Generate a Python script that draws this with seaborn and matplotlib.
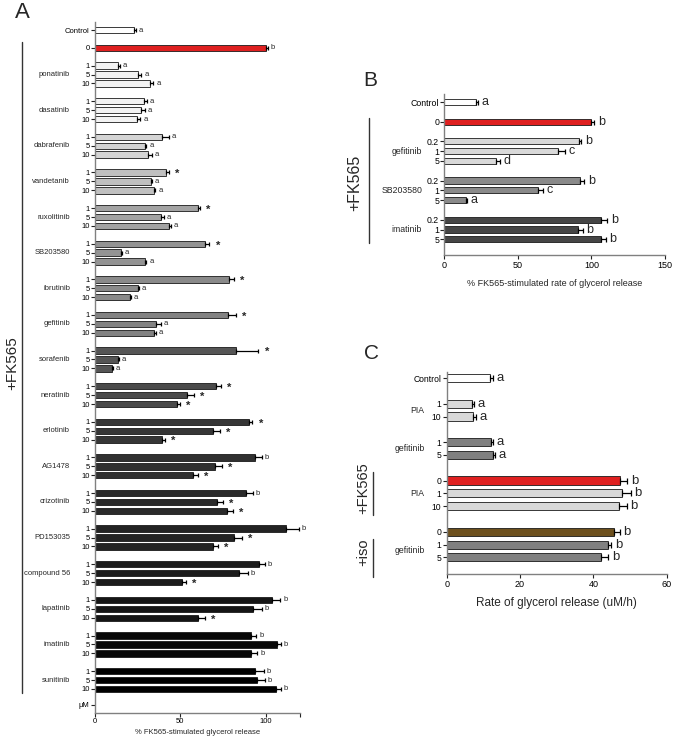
import numpy as np
import pandas as pd
import matplotlib
matplotlib.use("Agg")
import matplotlib.pyplot as plt
import matplotlib.transforms as mtransforms
import seaborn as sns

sns.set_style("ticks")
plt.rcParams['font.family'] = ['Liberation Sans', 'DejaVu Sans']

# ---------------- panel A ----------------
a_groups = ["ponatinib", "dasatinib", "dabrafenib", "vandetanib", "ruxolitinib",
            "SB203580", "ibrutinib", "gefitinib", "sorafenib", "neratinib",
            "erlotinib", "AG1478", "crizotinib", "PD153035", "compound 56",
            "lapatinib", "imatinib", "sunitinib"]
a_doses = ["1", "5", "10"]
a_colors = ["#f3f3f3", "#f3f3f3", "#d4d4d4", "#c0c0c0", "#a3a3a3",
            "#939393", "#8a8a8a", "#828282", "#555555", "#4a4a4a",
            "#363636", "#303030", "#2a2a2a", "#232323", "#1c1c1c",
            "#151515", "#080808", "#000000"]
a_values = [[13.5, 25.2, 32.2], [28.4, 27.0, 24.6], [39.2, 29.1, 31.3],
            [41.7, 32.8, 34.4], [60.0, 38.6, 43.5], [64.5, 15.4, 29.1],
            [78.5, 25.2, 20.3], [78.0, 35.9, 34.7], [82.6, 13.5, 10.2],
            [70.6, 54.0, 47.8], [90.1, 68.9, 39.4], [93.6, 70.1, 57.3],
            [88.4, 71.2, 77.4], [111.8, 81.1, 68.9], [96.1, 84.3, 51.0],
            [103.5, 92.7, 60.0], [91.5, 106.5, 91.5], [93.8, 95.0, 105.7]]
a_errors = [[1, 2, 2], [2, 2, 2], [4, 1, 2], [1.5, 0.5, 1], [1.5, 1.5, 1],
            [2.5, 0.5, 1], [3, 0.5, 0.5], [4.5, 2.5, 1], [13, 0.4, 0.4],
            [3, 4, 2], [2, 4, 1.5], [4, 4, 3], [4, 3.5, 3.5], [7.5, 5, 3],
            [3.5, 5, 2], [5, 5, 4.5], [3, 2.5, 3.5], [5, 4.5, 3]]
a_marks = [["a", "a", "a"], ["a", "a", "a"], ["a", "a", "a"], ["*", "a", "a"],
           ["*", "a", "a"], ["*", "a", "a"], ["*", "a", "a"], ["*", "a", "a"],
           ["*", "a", "a"], ["*", "*", "*"], ["*", "*", "*"], ["b", "*", "*"],
           ["b", "*", "*"], ["b", "*", "*"], ["b", "b", "*"], ["b", "b", "*"],
           ["b", "b", "b"], ["b", "b", "b"]]
a_control = (22.8, 1.4)
a_fk = (100.0, 1.0)

# ---------------- panel B ----------------
b_groups = ["gefitinib", "SB203580", "imatinib"]
b_doses = ["0.2", "1", "5"]
b_colors = ["#d9d9d9", "#8a8a8a", "#454545"]
b_values = [[91.7, 77.0, 34.9], [92.1, 64.0, 14.6], [106.8, 91.2, 106.8]]
b_errors = [[1.5, 5, 3], [3, 3, 0.7], [4, 3, 3]]
b_marks = [["b", "c", "d"], ["b", "c", "a"], ["b", "b", "b"]]
b_control = (21.8, 1.0)
b_fk = (100.0, 2.0)

# ---------------- panel C ----------------
c_groups = ["", "PIA", "gefitinib", "PIA", "gefitinib"]
c_doses = [["Control"], ["1", "10"], ["1", "5"], ["0", "1", "10"], ["0", "1", "5"]]
c_values = [[11.8], [6.8, 7.3], [12.0, 12.5], [47.3, 47.7, 47.1], [45.7, 43.9, 42.1]]
c_errors = [[0.8], [0.6, 0.6], [0.6, 0.8], [2.0, 2.5, 2.0], [1.5, 1.0, 2.0]]
c_marks = [["a"], ["a", "a"], ["a", "a"], ["b", "b", "b"], ["b", "b", "b"]]
c_colors = [["#ffffff"], ["#d9d9d9", "#d9d9d9"], ["#808080", "#808080"],
            ["#ff0000", "#d9d9d9", "#d9d9d9"], ["#7a5410", "#808080", "#808080"]]


def layout(groups, doses, values, errors, marks, colors):
    """Stack groups top to bottom, one empty slot between groups."""
    rows = []
    pos = 0
    centers = []
    for g, d, v, e, m, c in zip(groups, doses, values, errors, marks, colors):
        start = pos
        for dd, vv, ee, mm, cc in zip(d, v, e, m, c):
            rows.append(dict(pos=pos, label=dd, value=vv, err=ee, mark=mm, color=cc))
            pos += 1
        centers.append((g, (start + pos - 1) / 2))
        pos += 1
    return pd.DataFrame(rows), centers


def stim_panel(groups, doses, values, errors, marks, colors, control, fk):
    g = [""] * 2 + groups
    d = [["Control"], ["0"]] + [doses] * len(groups)
    v = [[control[0]], [fk[0]]] + values
    e = [[control[1]], [fk[1]]] + errors
    m = [["a"], ["b"]] + marks
    c = [["#ffffff"], ["#ff0000"]] + [[col] * len(doses) for col in colors]
    return layout(g, d, v, e, m, c)


def draw_panel(ax, df, centers, width, fs, fs_mark, group_off, mark_off,
               capsize, star_fs=None):
    pal = {c: c for c in df["color"].unique()}
    sns.barplot(data=df, x="value", y="pos", hue="color", palette=pal,
                orient="h", native_scale=True, dodge=False, legend=False,
                width=width, edgecolor="#1a1a1a", linewidth=0.6,
                errorbar=None, ax=ax)
    ax.errorbar(df["value"], df["pos"], xerr=[np.zeros(len(df)), df["err"]],
                fmt="none", ecolor="black", elinewidth=0.9, capsize=capsize,
                capthick=0.9)
    for _, r in df.iterrows():
        if r["mark"] == "*":
            ax.annotate("*", xy=(r["value"] + r["err"], r["pos"]),
                        xytext=(mark_off + 2.5, -1.2), textcoords="offset points",
                        ha="left", va="center", fontsize=star_fs or fs_mark,
                        fontweight="bold")
        else:
            ax.annotate(r["mark"], xy=(r["value"] + r["err"], r["pos"]),
                        xytext=(mark_off, 0), textcoords="offset points",
                        ha="left", va="center", fontsize=fs_mark)
    for name, cy in centers:
        if name:
            ax.annotate(name, xy=(0, cy), xycoords=ax.get_yaxis_transform(),
                        xytext=(-group_off, 0), textcoords="offset points",
                        ha="right", va="center", fontsize=fs)
    last = df["pos"].max()
    ax.set_yticks(list(df["pos"]) + [last + 1.8])
    ax.set_yticklabels(list(df["label"]) + ["μM"], fontsize=fs)
    ax.set_ylabel("")
    sns.despine(ax=ax)
    for s in ["left", "bottom"]:
        ax.spines[s].set_color("#808080")
        ax.spines[s].set_linewidth(1.0)
    ax.tick_params(axis="both", colors="#222222", labelcolor="black",
                   length=2.8, width=0.8, pad=1)


W, H = 675, 737
fig = plt.figure(figsize=(W / 100, H / 100), dpi=100)


def box(left, top, right, bottom):
    return [left / W, 1 - bottom / H, (right - left) / W, (bottom - top) / H]


# panel A
dfa, ca = stim_panel(a_groups, a_doses, a_values, a_errors, a_marks, a_colors,
                     a_control, a_fk)
axA = fig.add_axes(box(95, 22, 300, 713))
draw_panel(axA, dfa, ca, 0.72, 5.5, 5.5, 18, 2, 1.5, star_fs=8)
axA.set_ylim(76.7, -0.9)
axA.set_xlim(0, 120)
axA.set_xticks([0, 50, 100, 120])
axA.set_xticklabels(["0", "50", "100", ""], fontsize=5.5)
axA.set_xlabel("% FK565-stimulated glycerol release", fontsize=5.5, labelpad=3)

# panel B
dfb, cb = stim_panel(b_groups, b_doses, b_values, b_errors, b_marks, b_colors,
                     b_control, b_fk)
axB = fig.add_axes(box(444.3, 94.3, 665, 255))
draw_panel(axB, dfb, cb, 0.62, 6.3, 9, 16, 2.5, 1.8)
axB.set_ylim(15.6, -0.8)
axB.set_xlim(0, 150)
axB.set_xticks([0, 50, 100, 150])
axB.tick_params(axis="x", labelsize=6.5, length=3)
axB.set_xlabel("% FK565-stimulated rate of glycerol release", fontsize=6.5,
               labelpad=7)

# panel C
dfc, cc = layout(c_groups, c_doses, c_values, c_errors, c_marks, c_colors)
axC = fig.add_axes(box(446.7, 371.7, 666.7, 574))
cc = [(n, y + (0.5 if i == 4 else 0)) for i, (n, y) in enumerate(cc)]
draw_panel(axC, dfc, cc, 0.63, 6.2, 9.5, 16, 2.5, 2.2)
axC.set_ylim(15.3, -0.5)
axC.set_xlim(0, 60)
axC.set_xticks([0, 20, 40, 60])
axC.tick_params(axis="x", labelsize=6.5, length=3)
axC.set_xlabel("Rate of glycerol release (uM/h)", fontsize=8.5, labelpad=6)


# brackets and side labels
def side(ax, x_text, x_line, y0, y1, y_text, text, fs):
    tr = mtransforms.blended_transform_factory(fig.transFigure, ax.transData)
    ax.plot([x_line / W, x_line / W], [y0, y1], transform=tr, color="#333333",
            lw=1.0, clip_on=False)
    ax.text(x_text / W, y_text, text, transform=tr, rotation=90, ha="center",
            va="center", fontsize=fs)


side(axA, 12, 21.7, 1.4, 74.4, 37.4, "+FK565", 11)
side(axB, 355, 369.3, 1.6, 14.35, 8.2, "+FK565", 11.5)
side(axC, 363, 373, 7.3, 10.7, 8.6, "+FK565", 10.5)
side(axC, 363, 373, 12.6, 15.5, 13.6, "+iso", 10.5)

fig.text(15 / W, 1 - 2 / H, "A", fontsize=16, va="top", ha="left")
fig.text(363 / W, 1 - 71 / H, "B", fontsize=15, va="top", ha="left")
fig.text(364 / W, 1 - 344 / H, "C", fontsize=15, va="top", ha="left")

fig.savefig("out.png", dpi=100)
